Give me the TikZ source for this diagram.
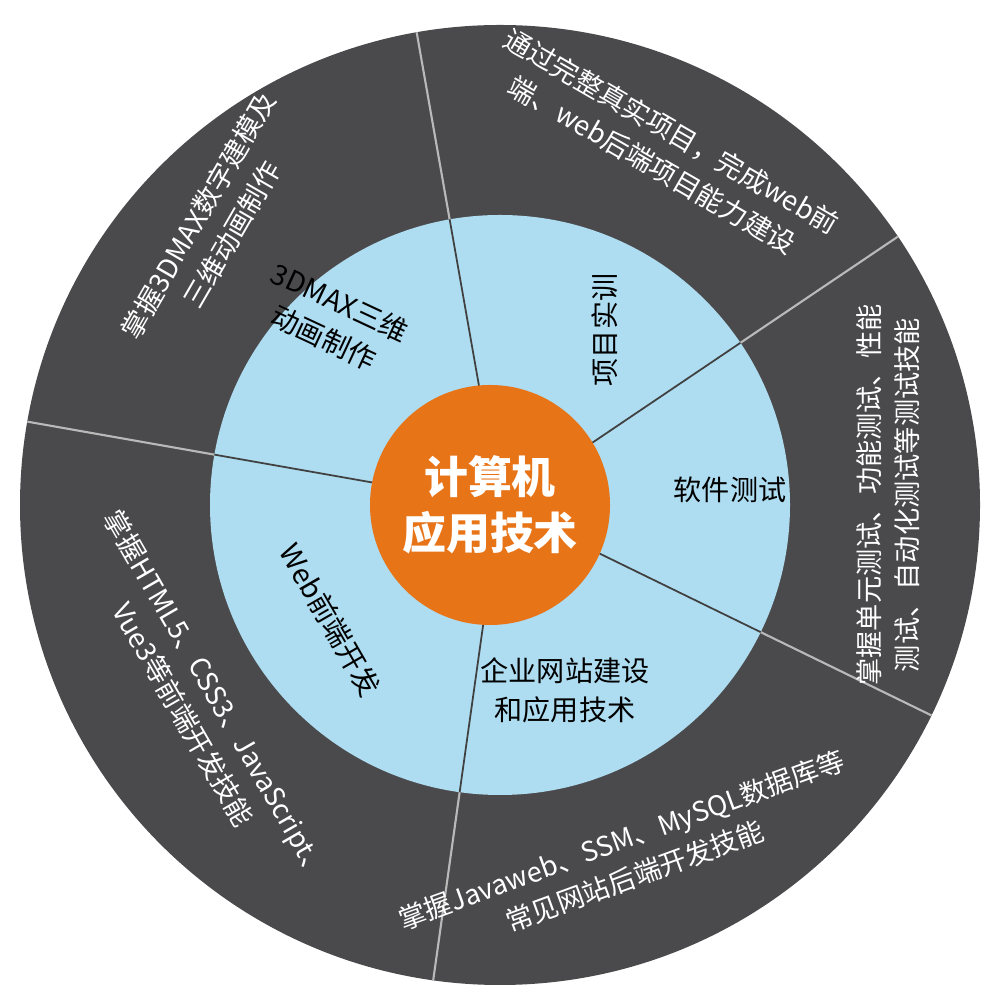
\documentclass[tikz,border=0pt]{standalone}
\usepackage{fontspec}
\usetikzlibrary{calc}
\setmainfont{Noto Sans CJK SC}
\definecolor{darkring}{RGB}{74,74,76}
\definecolor{lightblue}{RGB}{174,220,240}
\definecolor{coreorange}{RGB}{232,116,24}
\begin{document}
\begin{tikzpicture}[x=0.02cm,y=0.02cm,
  outertxt/.style={text=white,font=\fontsize{15.5}{22}\selectfont,align=center},
  innertxt/.style={text=black,font=\fontsize{16}{22}\selectfont,align=center},
  sepout/.style={draw=gray!55,line width=1.2pt},
  sepin/.style={draw=black!75,line width=1pt}]
\useasboundingbox (0,0) rectangle (1000,1000);
\fill[white] (0,0) rectangle (1000,1000);
\coordinate (C) at (500,495);
\node[circle,fill=darkring,minimum size=960*0.02cm,inner sep=0] (outer) at (C) {};
\node[circle,fill=lightblue,minimum size=580*0.02cm,inner sep=0] (inner) at (C) {};
\foreach \a in {100,34,-26,-98,170}{
  \draw[sepout] ($(C)+(\a:290)$) -- ($(C)+(\a:480)$);
  \draw[sepin] (C) -- ($(C)+(\a:290)$);
}
\node[circle,fill=coreorange,minimum size=240*0.02cm,inner sep=0,
  text=white,font=\bfseries\fontsize{25}{32}\selectfont,align=center] (core) at (490,495) {计算机\\应用技术};
\node[outertxt,rotate=60] (o1) at (215,775) {掌握3DMAX数字建模及\\三维动画制作};
\node[outertxt,rotate=-30] (o2) at (662,852) {通过完整真实项目，完成web前\\端、web后端项目能力建设};
\node[outertxt,rotate=90] (o3) at (888,505) {掌握单元测试、功能测试、性能\\测试、自动化测试等测试技能};
\node[outertxt,rotate=20] (o4) at (628,142) {掌握Javaweb、SSM、MySQL数据库等\\常见网站后端开发技能};
\node[outertxt,rotate=-60] (o5) at (200,295) {掌握HTML5、CSS3、JavaScript、\\Vue3等前端开发技能};
\node[innertxt,rotate=-25] (i1) at (332,680) {3DMAX三维\\动画制作};
\node[innertxt,rotate=90] (i2) at (605,670) {项目实训};
\node[innertxt] (i3) at (730,510) {软件测试};
\node[innertxt] (i4) at (565,310) {企业网站建设\\和应用技术};
\node[innertxt,rotate=-60] (i5) at (330,380) {Web前端开发};
\end{tikzpicture}
\end{document}
